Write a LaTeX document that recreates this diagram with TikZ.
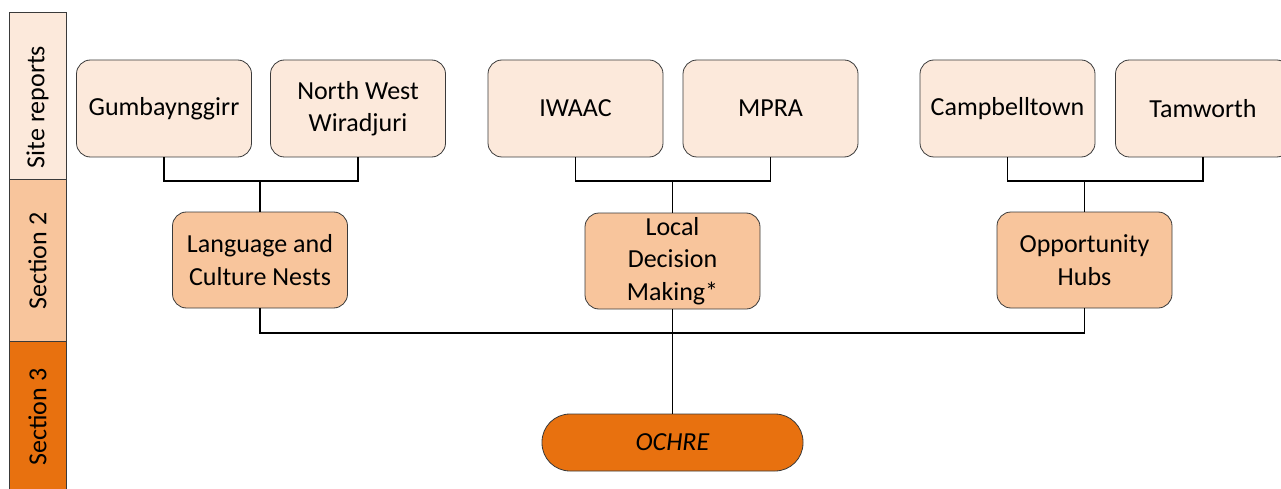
\documentclass[tikz,border=0pt]{standalone}
\usepackage{fontspec}
\setmainfont{Carlito}
\definecolor{siteFill}{HTML}{FCE9DB}
\definecolor{secFill}{HTML}{F8C59C}
\definecolor{ochreFill}{HTML}{E8710F}
\definecolor{edge}{HTML}{3A3A3A}
\begin{document}
\begin{tikzpicture}[x=1pt,y=-1pt,
  txt/.style={font=\fontsize{26}{32.5}\selectfont},
  site/.style={txt, draw=edge, fill=siteFill, rounded corners=14pt, minimum width=175pt, minimum height=97pt, align=center, line width=0.8pt, inner sep=2pt},
  sec/.style={txt, draw=edge, fill=secFill, rounded corners=14pt, minimum width=175pt, minimum height=96pt, align=center, line width=0.8pt, inner sep=2pt},
  ochrebox/.style={draw=edge, fill=ochreFill, rounded corners=28pt, minimum width=261pt, minimum height=57pt, line width=0.8pt, font=\fontsize{26}{32.5}\selectfont\itshape},
  band/.style={draw=edge, line width=0.8pt},
  conn/.style={draw=black, line width=1.7pt}]
\useasboundingbox (0,0) rectangle (1281,489);
\clip (0,0) rectangle (1281,489);
% left bar
\fill[siteFill] (9,12) rectangle (66,179);
\fill[secFill] (9,179) rectangle (66,341);
\fill[ochreFill] (9,341) rectangle (66,495);
\draw[band] (9,495) -- (9,12) -- (66,12) -- (66,495);
\draw[band] (9,179) -- (66,179);
\draw[band] (9,341) -- (66,341);
\node[txt, rotate=90] (lsite) at (37.5,107) {Site reports};
\node[txt, rotate=90] (lsec2) at (37.5,261) {Section 2};
\node[txt, rotate=90] (lsec3) at (37.5,417) {Section 3};
% site boxes
\node[site] (gum) at (164,108.5) {Gumbaynggirr};
\node[site] (nww) at (358,108.5) {North West\\Wiradjuri};
\node[site] (iwaac) at (575.5,108.5) {IWAAC};
\node[site] (mpra) at (770.5,108.5) {MPRA};
\node[site] (camp) at (1007.5,108.5) {Campbelltown};
\node[site] (tam) at (1203,108.5) {Tamworth};
% section 2 boxes
\node[sec] (lcn) at (260,260) {Language and\\Culture Nests};
\node[sec] (ldm) at (672.5,261) {Local\\Decision\\Making*};
\node[sec] (opp) at (1084.5,260) {Opportunity\\Hubs};
% ochre
\node[ochrebox] (ochre) at (672.5,442.5) {OCHRE};
% connectors
\coordinate (j1) at (260,181);
\coordinate (j2) at (672.5,181);
\coordinate (j3) at (1084.5,181);
\coordinate (j4) at (672.5,333);
\draw[conn] (gum.south) |- (j1) -| (nww.south);
\draw[conn] (j1) -- (lcn.north);
\draw[conn] (iwaac.south) |- (j2) -| (mpra.south);
\draw[conn] (j2) -- (ldm.north);
\draw[conn] (camp.south) |- (j3) -| (tam.south);
\draw[conn] (j3) -- (opp.north);
\draw[conn] (lcn.south) |- (j4) -| (opp.south);
\draw[conn] (ldm.south) -- (ochre.north);
\end{tikzpicture}
\end{document}
